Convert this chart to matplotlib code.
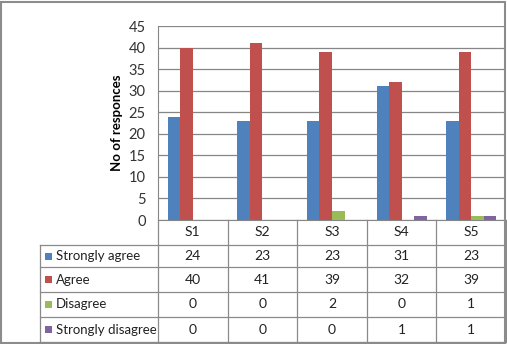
import matplotlib
matplotlib.use("Agg")
import matplotlib.pyplot as plt
import matplotlib.transforms as mtransforms
from matplotlib.patches import Rectangle
import numpy as np

categories = ["S1", "S2", "S3", "S4", "S5"]
series_names = ["Strongly agree", "Agree", "Disagree", "Strongly disagree"]
strongly_agree = [24, 23, 23, 31, 23]
agree = [40, 41, 39, 32, 39]
disagree = [0, 0, 2, 0, 1]
strongly_disagree = [0, 0, 0, 1, 1]
series_values = [strongly_agree, agree, disagree, strongly_disagree]
colors = ["#4F81BD", "#C0504D", "#9BBB59", "#8064A2"]
yticks = [0, 5, 10, 15, 20, 25, 30, 35, 40, 45]

plt.rcParams['font.family'] = ['Lato', 'DejaVu Sans']

W, H = 507, 344
fig = plt.figure(figsize=(W / 100, H / 100), dpi=100)

# outer frame
fig.patches.append(Rectangle((1 / W, 1 / H), 1 - 3 / W, 1 - 3 / H, transform=fig.transFigure,
                             fill=False, edgecolor="#8c8c8c", linewidth=1.5))

left, right, top, bottom = 158, 506, 26, 220
ax = fig.add_axes([left / W, 1 - bottom / H, (right - left) / W, (bottom - top) / H])

x = np.arange(len(categories))
w = 0.18
for i, (vals, c) in enumerate(zip(series_values, colors)):
    ax.bar(x + (i - 1.5) * w, vals, width=w, color=c, zorder=3)

ax.set_xlim(-0.5, len(categories) - 0.5)
ax.set_ylim(0, 45)
ax.set_yticks(yticks)
ax.set_yticklabels([str(t) for t in yticks], fontsize=10.5, color="#333333")
ax.set_xticks([])
ax.grid(axis="y", color="#868686", linewidth=0.9, zorder=0)
for s in ["top", "right"]:
    ax.spines[s].set_visible(False)
ax.spines["left"].set_color("#868686")
ax.spines["bottom"].set_color("#868686")
ax.tick_params(axis="y", length=0, pad=9)
ax.set_ylabel("No of responces", fontsize=9.5, fontweight="bold", labelpad=4)

# data table drawn beneath the axes
trans = mtransforms.blended_transform_factory(ax.transData, fig.transFigure)
ftrans = fig.transFigure
line_c = "#8a8a8a"
row_edges_px = [220, 245, 267, 292, 317, 342]
row_edges = [1 - r / H for r in row_edges_px]
label_left = 40 / W

# vertical column boundaries
for b in np.arange(len(categories) + 1) - 0.5:
    ax.plot([b, b], [row_edges[0], row_edges[-1]], transform=trans, color=line_c,
            linewidth=0.9, clip_on=False)
# left border of label column
fig.add_artist(plt.Line2D([label_left, label_left], [row_edges[1], row_edges[-1]],
                          transform=ftrans, color=line_c, linewidth=0.9))
# horizontal lines
for r in row_edges[1:]:
    fig.add_artist(plt.Line2D([label_left, right / W], [r, r], transform=ftrans,
                              color=line_c, linewidth=0.9))

# header
hy = (row_edges[0] + row_edges[1]) / 2
for xi, cat in zip(x, categories):
    ax.text(xi, hy, cat, transform=trans, ha="center", va="center", fontsize=10, color="#222222")

# rows
for ri, (name, vals, c) in enumerate(zip(series_names, series_values, colors)):
    cy = (row_edges[ri + 1] + row_edges[ri + 2]) / 2
    fig.patches.append(Rectangle((45 / W, cy - 3.5 / H), 7 / W, 7 / H, transform=ftrans,
                                 facecolor=c, edgecolor="none"))
    fig.text(56 / W, cy, name, ha="left", va="center", fontsize=9.5, color="#222222")
    for xi, v in zip(x, vals):
        ax.text(xi, cy, str(v), transform=trans, ha="center", va="center",
                fontsize=10, color="#222222")

fig.savefig("out.png", dpi=100)
